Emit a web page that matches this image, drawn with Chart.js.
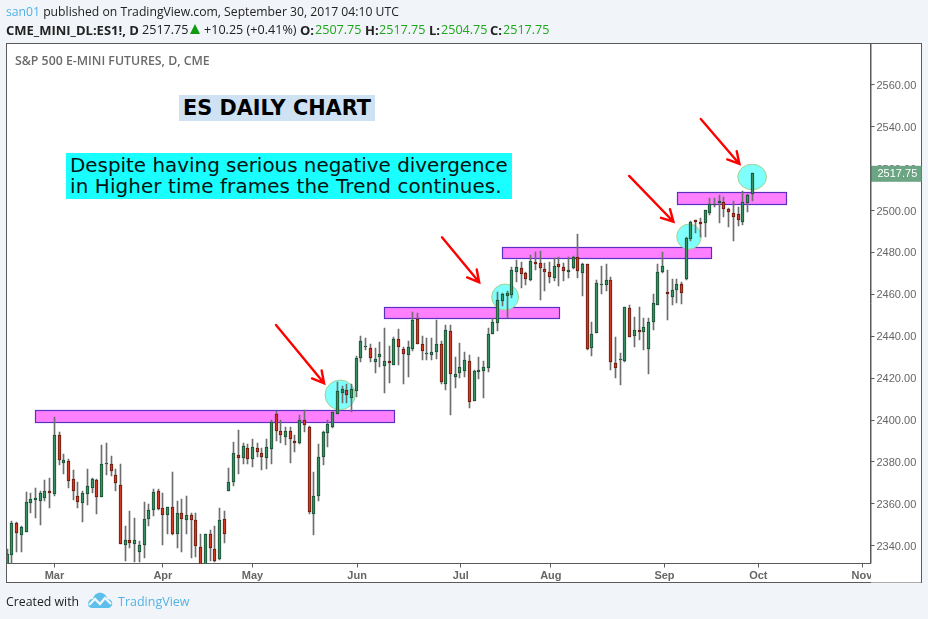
<!DOCTYPE html>
<html>
<head>
<meta charset="utf-8">
<title>ES daily chart</title>
<script src="https://cdn.jsdelivr.net/npm/chart.js@4"></script>
<style>
    html, body { margin: 0; padding: 0; background: #f1f4f8; }
    body { width: 928px; height: 619px; position: relative; overflow: hidden; font-family: "Open Sans", sans-serif; }
    canvas { position: absolute; left: 0; top: 0; }
    .txt { position: absolute; white-space: nowrap; }
    .up { color: #1ea81e; }
    .b { font-weight: 700; }
</style>
</head>
<body>
<canvas id="es-chart" width="928" height="619"></canvas>

<div class="txt" style="left:6px;top:3px;font-size:12.2px;color:#222"><span style="color:#4fb3e6">san01</span> published on TradingView.com, September 30, 2017 04:10 UTC</div>
<div class="txt b" style="left:6px;top:21px;font-size:13px;color:#222">CME_MINI_DL:ES1!, D</div>
<div class="txt" style="left:142px;top:21px;font-size:12.6px;color:#222">2517.75</div>
<div style="position:absolute;left:190px;top:24px;width:0;height:0;border-left:5.5px solid transparent;border-right:5.5px solid transparent;border-bottom:10px solid #0d9b0d"></div>
<div class="txt" style="left:204px;top:21px;font-size:12.6px;color:#222">+10.25 (+0.41%)</div>
<div class="txt b" style="left:300px;top:21px;font-size:13px;color:#222">O:</div>
<div class="txt up" style="left:315px;top:21px;font-size:12.6px">2507.75</div>
<div class="txt b" style="left:365px;top:21px;font-size:13px;color:#222">H:</div>
<div class="txt up" style="left:379px;top:21px;font-size:12.6px">2517.75</div>
<div class="txt b" style="left:429px;top:21px;font-size:13px;color:#222">L:</div>
<div class="txt up" style="left:441px;top:21px;font-size:12.6px">2504.75</div>
<div class="txt b" style="left:490px;top:21px;font-size:13px;color:#222">C:</div>
<div class="txt up" style="left:503px;top:21px;font-size:12.6px">2517.75</div>

<div class="txt" style="left:15px;top:52px;font-size:12.3px;font-weight:600;color:#6a6a6a">S&amp;P 500 E-MINI FUTURES, D, CME</div>

<div class="txt" style="left:179px;top:95px;width:196px;height:26px;line-height:26px;text-align:center;background:#cfe2f3;font-family:'DejaVu Sans';font-weight:700;font-size:20.8px;color:#000">ES DAILY CHART</div>
<div class="txt" style="left:66px;top:153px;width:446px;height:46px;background:#19ffff;font-family:'DejaVu Sans';font-size:19.9px;line-height:21px;color:#001414;padding:0"><div style="padding:2px 0 0 4px">Despite having serious negative divergence<br><span style="letter-spacing:0.12px">in Higher time frames the Trend continues.</span></div></div>

<div class="txt" style="left:6px;top:593px;font-size:12.3px;color:#222">Created with</div>
<svg style="position:absolute;left:87px;top:591px" width="26" height="18" viewBox="0 0 26 18">
    <path d="M5 17 C1 17 0 13 2 10 C3 8 5 8 6 8 C7 3 11 1 15 2 C18 3 20 5 20 8 C24 8 26 11 25 14 C24 16 23 17 21 17 Z" fill="#5cc0ea"/>
    <path d="M2 14 L8 8 L13 13 L18 7 L24 13" fill="none" stroke="#f1f4f8" stroke-width="2.4"/>
</svg>
<div class="txt" style="left:118px;top:593px;font-size:12.5px;color:#54b4e4">TradingView</div>

<script>
// daily OHLC, one entry per bar
const opens = [
    2330, 2335.75, 2350.75, 2345.25, 2346.75, 2360.25, 2362, 2361.5, 2363, 2366,
    2364.75, 2392.75, 2379.75, 2380.25, 2371.75, 2364, 2360.5, 2364.75, 2367.75, 2371.25,
    2363.5, 2379.25, 2379.25, 2374, 2369.25, 2340.5, 2342.75, 2341, 2337.25, 2340.5,
    2353, 2357.25, 2366, 2358, 2354.5, 2358.75, 2345.75, 2355.5, 2352.25, 2354.5,
    2352.25, 2339.25, 2331, 2345.5, 2338.25, 2333.5, 2353, 2366, 2370.25, 2383.25,
    2381.75, 2386.5, 2381.5, 2386.5, 2384.25, 2382, 2386, 2402.75, 2394.75, 2392,
    2395, 2390.25, 2389, 2400, 2396.5, 2355.25, 2364, 2382.25, 2393.75, 2396.75,
    2403, 2413, 2414.25, 2410.75, 2414, 2429.5, 2435, 2434.25, 2427.5, 2430.25,
    2425.75, 2428, 2426.5, 2438.5, 2433.75, 2431.25, 2433.75, 2448.25, 2436.25, 2431.75,
    2431.25, 2432.25, 2436.25, 2417, 2442.5, 2420.75, 2422.25, 2423.5, 2428, 2409.25,
    2423, 2423.5, 2425, 2441.25, 2446.5, 2457, 2459.25, 2459.75, 2470.75, 2472.5,
    2470, 2467, 2475.25, 2474.75, 2472, 2470.5, 2468, 2474.25, 2473.25, 2470.75,
    2472.5, 2477.75, 2470, 2474.25, 2434.5, 2441.75, 2464.5, 2464.5, 2466.75, 2427,
    2428.75, 2428, 2453.25, 2440.25, 2442.75, 2442.25, 2434, 2446.75, 2455, 2470.5,
    2461.25, 2458.5, 2462.25, 2464.75, 2467.25, 2486.5, 2495.25, 2494.5, 2494, 2499,
    2502.75, 2503.5, 2504.25, 2500.5, 2499, 2498.25, 2494.75, 2503.5, 2507.75
];
const highs = [
    2338.5, 2351.75, 2351.5, 2349.5, 2365.5, 2365, 2367.75, 2366.25, 2371.5, 2372.25,
    2401.25, 2394.5, 2383.75, 2381.25, 2376, 2370.25, 2366.25, 2376.5, 2372.25, 2371.75,
    2388, 2389, 2382.75, 2376.5, 2379, 2349.5, 2356.5, 2353.25, 2342.5, 2360.75,
    2359.75, 2367, 2367, 2365, 2358.75, 2375, 2361.5, 2362.25, 2363.75, 2355.5,
    2355.75, 2345.5, 2345.5, 2347.75, 2349.5, 2358.25, 2356.5, 2377, 2389.5, 2395.25,
    2389, 2388.5, 2391, 2389, 2386.5, 2391, 2400, 2404.25, 2400.25, 2396.75,
    2396.75, 2393, 2402.5, 2404.75, 2397.25, 2375.25, 2388.5, 2394.75, 2400, 2403.75,
    2418.25, 2416.25, 2417.25, 2417.25, 2430.75, 2440, 2439, 2436.25, 2434.25, 2437.25,
    2443.75, 2435.25, 2439.5, 2443.25, 2435, 2437.5, 2451.5, 2451, 2440, 2439.25,
    2439.25, 2447.75, 2437.5, 2445.25, 2445.5, 2430.25, 2436.75, 2432.5, 2431, 2423.75,
    2430, 2428.25, 2443.75, 2448.5, 2461.25, 2460.5, 2461.5, 2473.25, 2476.5, 2475.5,
    2470.75, 2478.75, 2480, 2480.5, 2474.75, 2475.5, 2477.5, 2478, 2474.75, 2477.75,
    2478.25, 2488.75, 2475, 2474.5, 2446.75, 2466.75, 2473.5, 2474.5, 2468.5, 2439.75,
    2432, 2454, 2454.75, 2449, 2454, 2448.5, 2448.5, 2460, 2474.5, 2480,
    2471.5, 2467.25, 2467.25, 2466, 2487.5, 2495, 2495.5, 2496.25, 2500.25, 2505.75,
    2505.75, 2507.5, 2506.25, 2501, 2504.5, 2501.5, 2509.25, 2507.75, 2517.75
];
const lows = [
    2328, 2331.5, 2337.25, 2337, 2346.5, 2355.5, 2353.25, 2350, 2361.5, 2358.25,
    2364, 2378.75, 2374.5, 2367.5, 2361.75, 2358, 2351.5, 2359.5, 2365, 2355.25,
    2363.25, 2373.75, 2373.25, 2366.25, 2340.75, 2333, 2339, 2332.25, 2332.25, 2334.25,
    2349.5, 2354, 2357.25, 2340.5, 2345.5, 2345.25, 2338.75, 2337.25, 2345.5, 2334,
    2334.75, 2330, 2330, 2332.75, 2332.25, 2333.25, 2341.25, 2366, 2368.5, 2374.25,
    2379.25, 2379, 2377.75, 2382.25, 2376.25, 2376.75, 2379.25, 2390, 2389.25, 2388.25,
    2379.75, 2385, 2388.75, 2394.5, 2355.25, 2345.25, 2361.5, 2378.75, 2387.25, 2396,
    2402.75, 2408.25, 2408.25, 2403.75, 2411.25, 2427.5, 2433.5, 2427.5, 2422.25, 2425.5,
    2413, 2417.5, 2426.25, 2426.5, 2417, 2420.75, 2433, 2436.25, 2428.5, 2428.5,
    2428.5, 2429, 2417.25, 2414.5, 2402.25, 2415.25, 2420, 2420.75, 2406, 2409,
    2419.5, 2410.75, 2423, 2441, 2442.5, 2454.5, 2448.5, 2458.25, 2466, 2463.25,
    2464.25, 2466.25, 2471.5, 2457.5, 2461.5, 2465.5, 2466.5, 2463.75, 2466.5, 2467.75,
    2472.25, 2468, 2459.25, 2433.25, 2430.75, 2441.5, 2460.25, 2461.5, 2424, 2420.25,
    2416.5, 2427.75, 2439.5, 2435, 2438, 2433.5, 2421.75, 2443, 2454.75, 2470.25,
    2447.75, 2455, 2456, 2455.5, 2467, 2485.5, 2489.5, 2487.5, 2487.5, 2497.75,
    2501.5, 2494.25, 2497, 2492.25, 2485.5, 2492.5, 2493.25, 2499.5, 2504.75
];
const closes = [
    2336, 2350.75, 2346.25, 2349, 2360.75, 2362.5, 2363, 2365, 2366, 2365.25,
    2392.75, 2381, 2380.75, 2371, 2366.25, 2360.75, 2365, 2368.5, 2371.75, 2363.5,
    2379.25, 2379.75, 2375.5, 2369.75, 2341, 2342.75, 2341.5, 2343, 2340.25, 2352.75,
    2357, 2365.5, 2357.75, 2354.75, 2358.75, 2345.75, 2355.5, 2353, 2354.5, 2352.25,
    2339.75, 2331, 2345.5, 2338.75, 2333, 2352.25, 2345.5, 2370.25, 2384.25, 2381.75,
    2387.5, 2381.25, 2387, 2385, 2382.5, 2387, 2399.25, 2395, 2393, 2395,
    2390.75, 2389.25, 2400.25, 2397.75, 2356.25, 2364, 2382.25, 2394.25, 2398, 2403.75,
    2413.75, 2415, 2411.75, 2414.75, 2429.5, 2437.5, 2435.25, 2429.75, 2429, 2431.75,
    2428, 2427, 2438.5, 2434.75, 2431.75, 2434.75, 2447.75, 2436.5, 2432.75, 2432,
    2432.25, 2436.25, 2418, 2442.75, 2421.75, 2421.75, 2425.25, 2428.5, 2408.75, 2423.25,
    2423.75, 2425.25, 2441, 2446.75, 2457.5, 2460, 2460.5, 2471.5, 2473, 2469.75,
    2467.5, 2475.75, 2474.25, 2472.5, 2470.75, 2468.5, 2473.75, 2473.25, 2471, 2471.5,
    2477.75, 2471.25, 2474.25, 2434, 2441, 2465.25, 2465, 2466.75, 2427.5, 2425,
    2429.25, 2453.75, 2439.75, 2442.75, 2442.25, 2444.25, 2447, 2455.75, 2470.5, 2473.75,
    2460, 2462, 2464.75, 2460.75, 2486.75, 2494.75, 2494.75, 2493.75, 2500, 2503,
    2503.25, 2504.75, 2500.5, 2499.5, 2497, 2495.25, 2504, 2507.5, 2517.75
];

const priceTicks = [2340, 2360, 2380, 2400, 2420, 2440, 2460, 2480, 2500, 2520, 2540, 2560];
const monthNames = ['Mar', 'Apr', 'May', 'Jun', 'Jul', 'Aug', 'Sep', 'Oct', 'Nov'];
const monthBars = [10, 33, 52, 74.2, 96.2, 115.3, 139.4, 159.3, 181.3];

// drawings on the chart, in bars and points
const zoneStart = [5.9, 79.9, 105, 142.1];
const zoneEnd = [82.1, 117.1, 149.2, 165.1];
const zoneTop = [2404.65, 2453.8, 2482.45, 2508.65];
const zoneBottom = [2399.25, 2448.85, 2477.5, 2503.25];

const circleBar = [70.6, 105.6, 144.6, 158];
const circlePrice = [2412, 2458.7, 2487.5, 2516];
const circleHalfBars = [3.2, 2.85, 2.6, 3.05];
const circleHalfPoints = [7.1, 6.2, 6, 6.1];

const arrowFromBar = [57, 92.2, 131.9, 147.1];
const arrowFromPrice = [2445.4, 2487.2, 2516.5, 2543.65];
const arrowToBar = [67.2, 100.1, 141.3, 155.3];
const arrowToPrice = [2417.55, 2465.75, 2494.65, 2522.2];

const lastPrice = closes[closes.length - 1];

const upFill = '#3a8f62', upLine = '#174d30';
const downFill = '#cf3a24', downLine = '#651b10';

function isUp(i) {
    return closes[i] >= opens[i];
}

// white page of the chart and its outer frame
const framePlugin = {
    id: 'frame',
    beforeDraw(chart) {
        const ctx = chart.ctx;
        ctx.save();
        ctx.fillStyle = '#ffffff';
        ctx.fillRect(6.5, 43.5, 915, 539);
        ctx.strokeStyle = '#5a5a5a';
        ctx.lineWidth = 1;
        ctx.strokeRect(6.5, 43.5, 915, 539);
        ctx.restore();
    }
};

// keep the candles on whole pixels
const snapPlugin = {
    id: 'snap',
    afterDatasetsUpdate(chart) {
        chart.data.datasets.forEach(function(ds, n) {
            chart.getDatasetMeta(n).data.forEach(function(bar) {
                bar.x = Math.floor(bar.x) + 0.5;
                bar.y = Math.round(bar.y);
                bar.base = Math.round(bar.base);
                if (bar.y === bar.base) {
                    bar.base = bar.y + 1;
                }
            });
        });
    }
};

// zones and circles go under the candles, the arrows are not touching any
const drawingsPlugin = {
    id: 'drawings',
    beforeDatasetsDraw(chart) {
        const ctx = chart.ctx, x = chart.scales.x, y = chart.scales.y;
        ctx.save();

        zoneStart.forEach(function(start, i) {
            const left = Math.round(x.getPixelForValue(start)) + 0.5;
            const right = Math.round(x.getPixelForValue(zoneEnd[i])) + 0.5;
            const top = Math.round(y.getPixelForValue(zoneTop[i])) + 0.5;
            const bottom = Math.round(y.getPixelForValue(zoneBottom[i])) + 0.5;
            ctx.fillStyle = '#ff80ff';
            ctx.fillRect(left, top, right - left, bottom - top);
            ctx.strokeStyle = '#5a2fc2';
            ctx.lineWidth = 1.2;
            ctx.strokeRect(left, top, right - left, bottom - top);
        });

        circleBar.forEach(function(bar, i) {
            const cx = x.getPixelForValue(bar), cy = y.getPixelForValue(circlePrice[i]);
            const rx = x.getPixelForValue(bar + circleHalfBars[i]) - cx;
            const ry = cy - y.getPixelForValue(circlePrice[i] + circleHalfPoints[i]);
            ctx.beginPath();
            ctx.ellipse(cx, cy, rx, ry, 0, 0, Math.PI * 2);
            ctx.fillStyle = '#80ffff';
            ctx.fill();
            ctx.strokeStyle = '#a8d08d';
            ctx.lineWidth = 1;
            ctx.stroke();
        });

        ctx.restore();
    },
    afterDatasetsDraw(chart) {
        const ctx = chart.ctx, x = chart.scales.x, y = chart.scales.y;
        ctx.save();
        ctx.strokeStyle = '#ff0000';
        ctx.lineWidth = 2.4;
        ctx.lineCap = 'round';
        arrowFromBar.forEach(function(bar, i) {
            const x1 = x.getPixelForValue(bar), y1 = y.getPixelForValue(arrowFromPrice[i]);
            const x2 = x.getPixelForValue(arrowToBar[i]), y2 = y.getPixelForValue(arrowToPrice[i]);
            const a = Math.atan2(y2 - y1, x2 - x1);
            ctx.beginPath();
            ctx.moveTo(x1, y1);
            ctx.lineTo(x2, y2);
            ctx.moveTo(x2 - 13 * Math.cos(a - 0.5), y2 - 13 * Math.sin(a - 0.5));
            ctx.lineTo(x2, y2);
            ctx.lineTo(x2 - 13 * Math.cos(a + 0.5), y2 - 13 * Math.sin(a + 0.5));
            ctx.stroke();
        });
        ctx.restore();
    }
};

// last price tag and the cut off Nov label, both on top of the axes
const tagPlugin = {
    id: 'tag',
    afterDraw(chart) {
        const ctx = chart.ctx, y = chart.scales.y, area = chart.chartArea;
        const py = y.getPixelForValue(lastPrice);
        ctx.save();
        ctx.fillStyle = '#ffffff';
        ctx.fillRect(area.right + 0.5, area.bottom + 1, 50, 18);
        ctx.fillStyle = '#6ba583';
        ctx.fillRect(area.right, py - 7.5, 51, 16);
        ctx.strokeStyle = '#5a5a5a';
        ctx.lineWidth = 1;
        ctx.beginPath();
        ctx.moveTo(area.right + 0.5, area.bottom);
        ctx.lineTo(area.right + 0.5, 43.5);
        ctx.stroke();
        ctx.fillStyle = '#ffffff';
        ctx.font = '11px "Liberation Sans"';
        ctx.textBaseline = 'middle';
        ctx.fillText(lastPrice.toFixed(2), area.right + 7, py + 1);
        ctx.restore();
    }
};

const wicks = lows.map(function(low, i) {
    return { x: i, y: [low, highs[i]] };
});
const bodies = opens.map(function(open, i) {
    return { x: i, y: [open, closes[i]] };
});

new Chart(document.getElementById('es-chart'), {
    type: 'bar',
    data: {
        datasets: [
            {
                label: 'High-Low',
                data: wicks,
                backgroundColor: '#6e6e6e',
                borderWidth: 0,
                barThickness: 1,
                grouped: false,
                order: 2
            },
            {
                label: 'ES1!',
                data: bodies,
                backgroundColor: opens.map(function(o, i) { return isUp(i) ? upFill : downFill; }),
                borderColor: opens.map(function(o, i) { return isUp(i) ? upLine : downLine; }),
                borderWidth: 1,
                borderSkipped: false,
                barThickness: 3,
                grouped: false,
                order: 1
            }
        ]
    },
    options: {
        responsive: false,
        animation: false,
        devicePixelRatio: 1,
        layout: { padding: { left: 7, top: 43.5, right: 6.5, bottom: 36.5 } },
        plugins: {
            legend: { display: false },
            title: { display: false },
            tooltip: { enabled: false }
        },
        scales: {
            x: {
                type: 'linear',
                offset: false,
                min: -0.06,
                max: 183.1,
                afterFit: function(scale) { scale.height = 19; },
                afterBuildTicks: function(scale) {
                    scale.ticks = monthBars.map(function(v) { return { value: v }; });
                },
                grid: { offset: false, drawOnChartArea: false, tickLength: 4, tickColor: '#5a5a5a' },
                border: { color: '#5a5a5a' },
                ticks: {
                    autoSkip: false,
                    maxRotation: 0,
                    padding: 2,
                    color: '#666666',
                    font: { family: '"Liberation Sans"', size: 11, weight: 'bold' },
                    callback: function(value) {
                        return monthNames[monthBars.indexOf(value)];
                    }
                }
            },
            y: {
                position: 'right',
                min: 2331.57,
                max: 2579.68,
                afterFit: function(scale) { scale.width = 51; },
                afterBuildTicks: function(scale) {
                    scale.ticks = priceTicks.map(function(v) { return { value: v }; });
                },
                grid: { drawOnChartArea: false, tickLength: 4, tickColor: '#5a5a5a' },
                border: { color: '#5a5a5a' },
                ticks: {
                    padding: 2,
                    labelOffset: 1,
                    color: '#666666',
                    font: { family: '"Liberation Sans"', size: 11 },
                    callback: function(value) {
                        return value.toFixed(2);
                    }
                }
            }
        }
    },
    plugins: [framePlugin, snapPlugin, drawingsPlugin, tagPlugin]
});
</script>
</body>
</html>
